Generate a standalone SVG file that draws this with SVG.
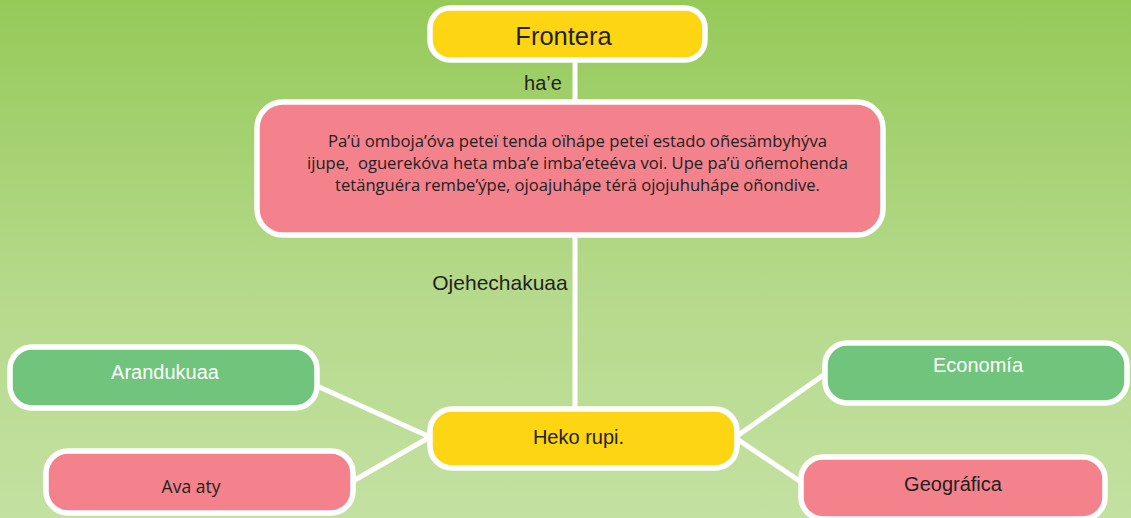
<svg xmlns="http://www.w3.org/2000/svg" width="1131" height="518" viewBox="0 0 1131 518">
<defs>
<linearGradient id="bg" x1="0" y1="0" x2="0" y2="1">
<stop offset="0" stop-color="#95CA59"/>
<stop offset="0.55" stop-color="#B5D98A"/>
<stop offset="1" stop-color="#C3E1A1"/>
</linearGradient>
<style>
.box{stroke:#fff;stroke-width:5.5}
.yellow{fill:#FED513}
.pink{fill:#F3828D}
.green{fill:#71C47B}
.lbl{font-family:"Liberation Sans",Arial,sans-serif;font-size:20px;text-anchor:middle;fill:#231F20}
.wht{fill:#ffffff}
.body{font-family:"Open Sans","Noto Sans",sans-serif;font-size:16.5px;fill:#231F20;text-anchor:middle}
.conn{stroke:#fff;stroke-width:5;fill:none}
</style>
</defs>
<rect x="0" y="0" width="1131" height="518" fill="url(#bg)"/>
<g id="connectors">
<line class="conn" x1="575" y1="60" x2="575" y2="102"/>
<line class="conn" x1="575" y1="235" x2="575" y2="409"/>
<line class="conn" x1="317" y1="386" x2="430" y2="437"/>
<line class="conn" x1="353" y1="481" x2="430" y2="437"/>
<line class="conn" x1="825" y1="374" x2="737" y2="436"/>
<line class="conn" x1="801" y1="482" x2="737" y2="439"/>
<text class="lbl" x="543" y="90" font-size="19.5">ha’e</text>
<text class="lbl" x="500" y="290" style="font-size:21px">Ojehechakuaa</text>
</g>
<g id="frontera">
<rect class="box yellow" x="430" y="8" width="275" height="52" rx="20"/>
<text class="lbl" x="563.5" y="45" style="font-size:25.5px">Frontera</text>
</g>
<g id="definicion">
<rect class="box pink" x="257" y="102" width="626" height="133" rx="26"/>
<text class="body" x="577.5" y="147" textLength="499" lengthAdjust="spacingAndGlyphs">Pa’ü omboja’óva peteï tenda oïhápe peteï estado oñesämbyhýva</text>
<text class="body" x="577.5" y="169" textLength="541" lengthAdjust="spacingAndGlyphs" xml:space="preserve">ijupe,  oguerekóva heta mba’e imba’eteéva voi. Upe pa’ü oñemohenda</text>
<text class="body" x="577.5" y="191" textLength="485" lengthAdjust="spacingAndGlyphs">tetänguéra rembe’ýpe, ojoajuhápe térä ojojuhuhápe oñondive.</text>
</g>
<g id="heko-rupi">
<rect class="box yellow" x="430" y="409" width="307" height="59" rx="22"/>
<text class="lbl" x="578.5" y="444">Heko rupi.</text>
</g>
<g id="arandukuaa">
<rect class="box green" x="10" y="347" width="307" height="61" rx="22"/>
<text class="lbl wht" x="165" y="379">Arandukuaa</text>
</g>
<g id="ava-aty">
<rect class="box pink" x="46" y="451" width="307" height="62" rx="22"/>
<text class="body" x="191" y="493" style="font-size:17.5px">Ava aty</text>
</g>
<g id="economia">
<rect class="box green" x="825" y="343" width="302" height="60" rx="22"/>
<text class="lbl wht" x="978" y="372">Economía</text>
</g>
<g id="geografica">
<rect class="box pink" x="801" y="457" width="304" height="62" rx="22"/>
<text class="lbl" x="953" y="491">Geográfica</text>
</g>
</svg>
